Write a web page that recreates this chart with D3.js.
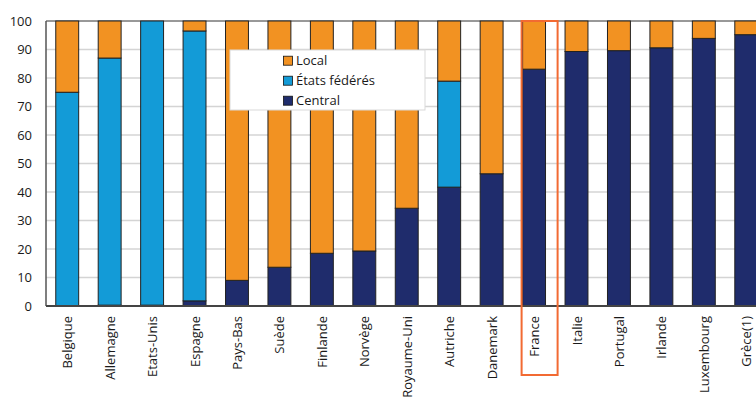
<!DOCTYPE html>
<html>
<head>
<meta charset="utf-8">
<script src="https://cdn.jsdelivr.net/npm/d3@7"></script>
<style>
  html, body { margin: 0; padding: 0; background: #fff; }
  svg { display: block; font-family: "Open Sans", sans-serif; }
</style>
</head>
<body>
<svg id="chart" width="756" height="397"></svg>
<script>
const categories = ["Belgique", "Allemagne", "Etats-Unis", "Espagne", "Pays-Bas", "Suède", "Finlande", "Norvège", "Royaume-Uni", "Autriche", "Danemark", "France", "Italie", "Portugal", "Irlande", "Luxembourg", "Grèce(1)"];
const central = [0, 0.3, 0.3, 1.8, 9, 13.6, 18.5, 19.3, 34.3, 41.7, 46.4, 83.1, 89.3, 89.6, 90.6, 93.9, 95.2];
const etatsFederes = [75, 86.7, 99.7, 94.7, 0, 0, 0, 0, 0, 37.2, 0, 0, 0, 0, 0, 0, 0];
const local = [25, 13, 0, 3.5, 91, 86.4, 81.5, 80.7, 65.7, 21.1, 53.6, 16.9, 10.7, 10.4, 9.4, 6.1, 4.8];
const yTicks = [0, 10, 20, 30, 40, 50, 60, 70, 80, 90, 100];
const seriesNames = ["Central", "États fédérés", "Local"];
const legendOrder = ["Local", "États fédérés", "Central"];
const highlighted = "France";

const colors = { "Central": "#1f2c6c", "États fédérés": "#139bd7", "Local": "#f29222" };

const svg = d3.select("#chart");
const mLeft = 46, mTop = 21, mBottom = 306, step = 42.44;

const x = d3.scaleBand().domain(categories)
  .range([mLeft, mLeft + step * categories.length])
  .paddingInner(0.46).paddingOuter(0.23);
const y = d3.scaleLinear().domain([0, 100]).range([mBottom, mTop]);

const table = categories.map((c, i) => ({
  cat: c, "Central": central[i], "États fédérés": etatsFederes[i], "Local": local[i]
}));
const stacked = d3.stack().keys(seriesNames)(table);

// gridlines
svg.append("g").selectAll("line").data(yTicks.filter(t => t > 0 && t < 100)).join("line")
  .attr("x1", mLeft).attr("x2", 756)
  .attr("y1", d => y(d)).attr("y2", d => y(d))
  .attr("stroke", "#d4d4d4").attr("stroke-width", 1.5);

svg.append("line").attr("x1", mLeft).attr("x2", 756).attr("y1", y(100)).attr("y2", y(100))
  .attr("stroke", "#333").attr("stroke-width", 1);

// bars
const g = svg.append("g");
stacked.forEach(s => {
  g.append("g").selectAll("rect").data(s).join("rect")
    .attr("x", d => x(d.data.cat))
    .attr("width", x.bandwidth())
    .attr("y", d => y(d[1]))
    .attr("height", d => Math.max(0, y(d[0]) - y(d[1])))
    .attr("fill", colors[s.key])
    .attr("stroke", "#222")
    .attr("stroke-width", d => (d[1] - d[0]) > 0 ? 1 : 0);
});

// axis lines
svg.append("line").attr("x1", mLeft).attr("x2", mLeft).attr("y1", mTop).attr("y2", mBottom)
  .attr("stroke", "#555").attr("stroke-width", 1.5);
svg.append("line").attr("x1", mLeft).attr("x2", 756).attr("y1", mBottom).attr("y2", mBottom)
  .attr("stroke", "#444").attr("stroke-width", 2);

// y axis labels
const yAxis = svg.append("g").attr("transform", `translate(${mLeft},0)`)
  .call(d3.axisLeft(y).tickValues(yTicks).tickSize(0).tickPadding(14));
yAxis.select(".domain").remove();
yAxis.selectAll("text").attr("font-size", 13).attr("fill", "#1a1a1a")
  .attr("font-family", "'Open Sans', sans-serif");

// x labels
svg.append("g").selectAll("text").data(categories).join("text")
  .attr("transform", d => `translate(${x(d) + x.bandwidth() / 2 + 0.5},${mBottom + 10}) rotate(-90)`)
  .attr("text-anchor", "end").attr("dy", "0.35em")
  .attr("font-size", 13).attr("fill", "#1a1a1a")
  .text(d => d);

// highlight France
svg.append("rect")
  .attr("x", x(highlighted) - 1)
  .attr("y", mTop)
  .attr("width", 36)
  .attr("height", 375 - mTop)
  .attr("fill", "none")
  .attr("stroke", "#f26a32")
  .attr("stroke-width", 2);

// legend
const lg = svg.append("g");
lg.append("rect").attr("x", 230).attr("y", 50).attr("width", 195).attr("height", 60)
  .attr("fill", "#fff").attr("stroke", "#d9d9d9").attr("stroke-width", 1);
legendOrder.forEach((k, i) => {
  const cy = 60.7 + i * 20;
  lg.append("rect").attr("x", 283.5).attr("y", cy - 4.5).attr("width", 9).attr("height", 9)
    .attr("fill", colors[k]).attr("stroke", "#111").attr("stroke-width", 0.8);
  lg.append("text").attr("x", 296).attr("y", cy).attr("dy", "0.35em")
    .attr("font-size", 13).attr("fill", "#1a1a1a").text(k);
});
</script>
</body>
</html>
